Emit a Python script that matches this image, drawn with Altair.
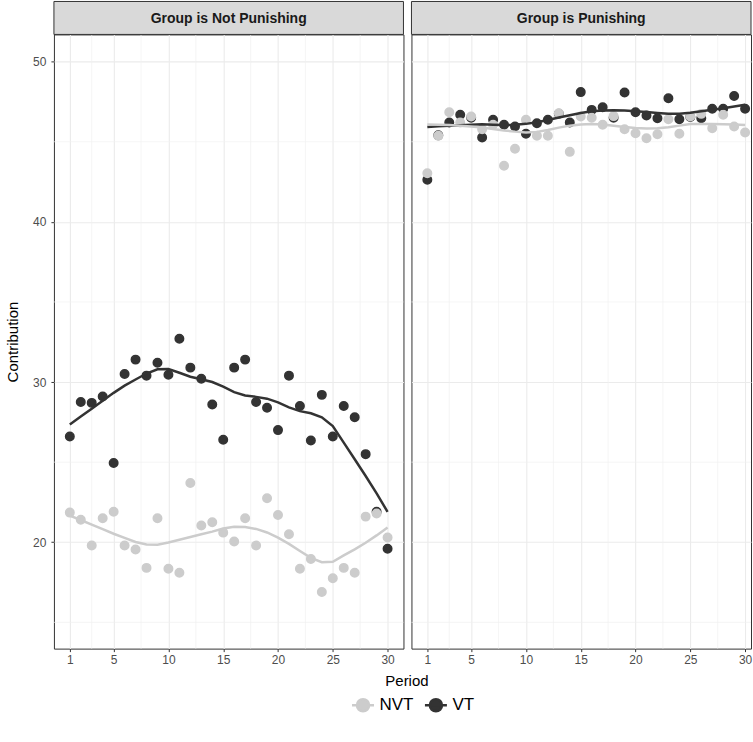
import altair as alt
import pandas as pd

PERIODS = list(range(1, 31))
GROUPS = ["Group is Not Punishing", "Group is Punishing"]
TYPES = ["NVT", "VT"]
COLORS = ["#cccccc", "#333333"]

NOTPUN_VT = [26.6, 28.75, 28.7, 29.1, 24.95, 30.5, 31.4, 30.4, 31.2, 30.45,
             32.7, 30.9, 30.2, 28.6, 26.4, 30.9, 31.4, 28.75, 28.4, 27.0,
             30.4, 28.5, 26.35, 29.2, 26.6, 28.5, 27.8, 25.5, 21.9, 19.6]
NOTPUN_NVT = [21.85, 21.4, 19.8, 21.5, 21.9, 19.8, 19.55, 18.4, 21.5, 18.35,
              18.1, 23.7, 21.05, 21.25, 20.6, 20.05, 21.5, 19.8, 22.75, 21.7,
              20.5, 18.35, 18.95, 16.9, 17.75, 18.4, 18.1, 21.6, 21.8, 20.3]
PUN_VT = [42.63, 45.4, 46.2, 46.68, 46.5, 45.26, 46.37, 46.06, 45.95, 45.5,
          46.16, 46.37, 46.75, 46.2, 48.1, 46.99, 47.16, 46.5, 48.07, 46.84,
          46.64, 46.47, 47.72, 46.4, 46.55, 46.47, 47.06, 47.06, 47.86, 47.06]
PUN_NVT = [43.04, 45.37, 46.84, 46.2, 46.58, 45.78, 46.06, 43.5, 44.56, 46.37,
           45.37, 45.37, 46.78, 44.37, 46.58, 46.5, 46.06, 46.6, 45.78, 45.53,
           45.22, 45.47, 46.4, 45.5, 46.58, 46.74, 45.84, 46.68, 45.95, 45.58]

X_MAJOR = [1, 5, 10, 15, 20, 25, 30]
X_MINOR = [3, 7.5, 12.5, 17.5, 22.5, 27.5]
Y_MAJOR = [20, 30, 40, 50]
Y_MINOR = [15, 25, 35, 45]

FONT = "Liberation Sans, Arial, sans-serif"
Y_DOMAIN = [13.36, 51.7]
LEFT_W = 350
RIGHT_W = 340
PANEL_H = 615
STRIP_H = 33


def panel_df(vt, nvt):
    rows = []
    for p, v in zip(PERIODS, vt):
        rows.append({"Period": p, "Contribution": v, "Type": "VT"})
    for p, v in zip(PERIODS, nvt):
        rows.append({"Period": p, "Contribution": v, "Type": "NVT"})
    return pd.DataFrame(rows)


LEGEND = alt.Legend(
    orient="none", legendX=297, legendY=659, direction="horizontal", title=None,
    symbolType="M-1,0L1,0M0.55,0A0.55,0.55,0,1,1,-0.55,0A0.55,0.55,0,1,1,0.55,0Z",
    symbolSize=484, symbolStrokeWidth=2.5, labelFontSize=17, labelFont=FONT,
    labelColor="#000000", columnPadding=6, labelOffset=4, symbolOpacity=1,
)


def panel(df, title, width, first):
    scale_w = LEFT_W / 31.9
    xmax = -0.45 + width / scale_w
    xscale = alt.Scale(domain=[-0.45, xmax], nice=False, zero=False)
    yscale = alt.Scale(domain=Y_DOMAIN, nice=False, zero=False)
    if first:
        xaxis = alt.Axis(values=X_MAJOR, title="Period", titleX=353, titlePadding=8,
                         tickSize=3, labelPadding=3)
        yaxis = alt.Axis(values=Y_MAJOR, title="Contribution", titlePadding=12,
                         tickSize=3, labelPadding=5)
    else:
        xaxis = alt.Axis(values=X_MAJOR, title=None, tickSize=3, labelPadding=3)
        yaxis = alt.Axis(values=Y_MAJOR, title=None, labels=False, ticks=False)
    cscale = alt.Scale(domain=TYPES, range=COLORS)
    fill = alt.Fill("Type:N", scale=cscale, legend=LEGEND)
    stroke = alt.Stroke("Type:N", scale=cscale, legend=LEGEND)

    xminor = alt.Chart(pd.DataFrame({"Period": X_MINOR})).mark_rule(
        color="#f0f0f0", strokeWidth=0.7).encode(x=alt.X("Period:Q", scale=xscale, axis=xaxis))
    yminor = alt.Chart(pd.DataFrame({"Contribution": Y_MINOR})).mark_rule(
        color="#f0f0f0", strokeWidth=0.7).encode(y=alt.Y("Contribution:Q", scale=yscale, axis=yaxis))

    base = alt.Chart(df)
    points = base.mark_point(size=72, opacity=1, filled=True, strokeWidth=1.5).encode(
        x=alt.X("Period:Q", scale=xscale, axis=xaxis),
        y=alt.Y("Contribution:Q", scale=yscale, axis=yaxis),
        fill=fill, stroke=stroke,
    )
    lines = base.transform_loess(
        "Period", "Contribution", groupby=["Type"], bandwidth=0.4
    ).mark_line(strokeWidth=2.5).encode(
        x=alt.X("Period:Q", scale=xscale, axis=xaxis),
        y=alt.Y("Contribution:Q", scale=yscale, axis=yaxis),
        stroke=stroke,
    )
    lab = pd.DataFrame({"label": [title]})
    strip = alt.Chart(lab).mark_rect(fill="#d9d9d9", stroke="#333333", strokeWidth=1).encode(
        x=alt.value(0), x2=alt.value(width), y=alt.value(-STRIP_H), y2=alt.value(0))
    strip_text = alt.Chart(lab).mark_text(
        font=FONT, fontSize=14, fontWeight="bold", color="#1a1a1a", baseline="middle"
    ).encode(x=alt.value(width / 2), y=alt.value(-STRIP_H / 2 + 1), text="label:N")

    return alt.layer(xminor, yminor, points, lines, strip, strip_text).properties(
        width=width, height=PANEL_H)


left = panel(panel_df(NOTPUN_VT, NOTPUN_NVT), GROUPS[0], LEFT_W, True)
right = panel(panel_df(PUN_VT, PUN_NVT), GROUPS[1], RIGHT_W, False)

chart = alt.hconcat(left, right, spacing=8, bounds="flush").properties(
    padding={"left": 5, "top": 0, "right": 0, "bottom": 0}
).configure_view(
    stroke="#333333", strokeWidth=1
).configure_axis(
    labelFont=FONT, labelFontSize=12, labelColor="#4d4d4d", tickColor="#333333",
    domain=False, gridColor="#ebebeb", gridWidth=1.1, titleFont=FONT,
    titleFontSize=15, titleFontWeight="normal", titleColor="#000000",
)

chart.save("out.html", embed_options={"renderer": "svg", "actions": False})
